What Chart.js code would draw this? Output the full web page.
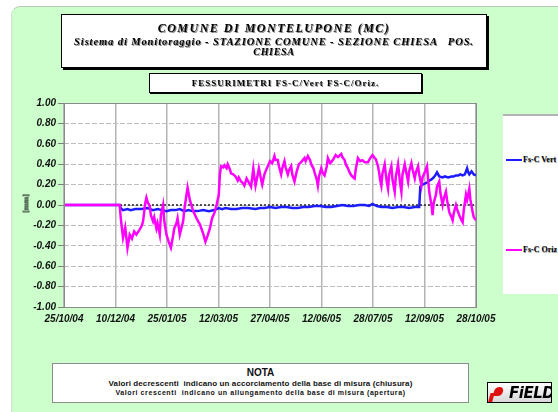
<!DOCTYPE html>
<html>
<head>
<meta charset="utf-8">
<script src="https://cdn.jsdelivr.net/npm/chart.js@4.4.1/dist/chart.umd.min.js"></script>
<style>
  body { margin: 0; width: 558px; height: 412px; overflow: hidden; background: #fff; position: relative; }
  #sheet { position: absolute; left: 11px; top: 6px; width: 560px; height: 420px; background: #ccffcc;
           border-top: 1px solid #b9c4b9; border-left: 1px solid #cfe0cf; border-radius: 9px 0 0 0; }
  #fsChart { position: absolute; left: 0; top: 0; }
  .box { position: absolute; box-sizing: border-box; background: #fff; }
  .line { position: absolute; left: 0; right: 0; text-align: center; white-space: nowrap; }
  #titleBox { left: 61px; top: 14px; width: 426px; height: 54px; border: 1.5px solid #000; box-shadow: 2px 2px 0 #000; }
  #titleBox .line { font-family: "Liberation Serif", serif; font-style: italic; font-weight: bold; color: #000;
                    text-shadow: 1px 1px 0 #8a8a8a; }
  #t1 { top: 6px; font-size: 12px; letter-spacing: 1.5px; }
  #t2 { top: 21px; font-size: 10.5px; letter-spacing: 0.9px; }
  #t3 { top: 31px; font-size: 10px; letter-spacing: 0.7px; }
  #subBox { left: 149px; top: 73px; width: 273px; height: 20px; border: 1px solid #000; box-shadow: 1px 1px 0 #000; }
  #subBox .line { top: 4px; font-family: "Liberation Serif", serif; font-weight: bold; font-size: 9px;
                  letter-spacing: 1px; text-shadow: 1px 1px 0 #999; }
  #yTitle { position: absolute; left: 12px; top: 199px; width: 28px; text-align: center; transform: rotate(-90deg);
            font-family: "Liberation Serif", serif; font-weight: bold; font-size: 8px; }
  #legendBox { left: 503px; top: 114px; width: 60px; height: 180px; border-top: 2px solid #b3b3b3; }
  .entry { position: absolute; left: 3px; height: 10px; font-family: "Liberation Serif", serif; font-weight: bold;
           font-size: 8px; white-space: nowrap; text-shadow: 0.5px 0.5px 0 #999; }
  .entry i { display: inline-block; width: 16px; height: 2px; vertical-align: middle; margin-right: 1px; }
  #noteBox { left: 52px; top: 363px; width: 417px; height: 40px; border: 1px solid #8c8c8c; }
  #noteBox .line { font-family: "Liberation Sans", sans-serif; font-weight: bold; color: #111; }
  #n1 { top: 3px; font-size: 10px; }
  #n2 { top: 15px; font-size: 8px; letter-spacing: 0.1px; }
  #n3 { top: 25px; font-size: 7px; letter-spacing: 0.6px; }
  #logo { left: 487px; top: 382px; width: 65px; height: 21px; border: 1px solid #000;
          background: linear-gradient(#fff, #d8d8d8); overflow: hidden; }
  #logo b { position: absolute; left: 6px; top: 4px; width: 9px; height: 9px; border-radius: 50% 50% 50% 0;
            background: #e01010; transform: skewX(-15deg); }
  #logo b::after { content: ""; position: absolute; left: -3px; top: 6px; width: 4px; height: 9px; background: #e01010; }
  #logo span { position: absolute; left: 21px; top: 1px; font-family: "DejaVu Sans", sans-serif; font-weight: bold;
               font-style: italic; font-size: 15px; letter-spacing: -0.5px; color: #000; }
</style>
</head>
<body>
<div id="sheet"></div>
<canvas id="fsChart" width="558" height="412"></canvas>

<div class="box" id="titleBox">
  <div class="line" id="t1">COMUNE DI MONTELUPONE (MC)</div>
  <div class="line" id="t2">Sistema di Monitoraggio - STAZIONE COMUNE - SEZIONE CHIESA &nbsp; POS.</div>
  <div class="line" id="t3">CHIESA</div>
</div>
<div class="box" id="subBox"><div class="line">FESSURIMETRI FS-C/Vert FS-C/Oriz.</div></div>
<div id="yTitle">[mm]</div>
<div class="box" id="legendBox">
  <div class="entry" id="legVert" style="top:39px"><i></i>Fs-C Vert</div>
  <div class="entry" id="legOriz" style="top:129px"><i></i>Fs-C Oriz</div>
</div>
<div class="box" id="noteBox">
  <div class="line" id="n1">NOTA</div>
  <div class="line" id="n2">Valori decrescenti &nbsp;indicano un accorciamento della base di misura (chiusura)</div>
  <div class="line" id="n3">Valori crescenti &nbsp;indicano un allungamento della base di misura (apertura)</div>
</div>
<div class="box" id="logo"><b></b><span>FiELD</span></div>

<script>
// days counted from 25/10/04, one tick every 46 days
const dateTicks = ["25/10/04", "10/12/04", "25/01/05", "12/03/05", "27/04/05",
                   "12/06/05", "28/07/05", "12/09/05", "28/10/05"];
const TICK_STEP = 46;
const LAST_DAY = 370;

// Fs-C Vert readings [mm]
const vertDays = [0, 10, 20, 30, 40, 50, 51, 53, 57, 60, 64, 70, 75, 80, 84, 88, 92, 96, 100, 104, 108,
                  112, 115, 120, 125, 130, 135, 139, 142, 145, 150, 155, 160, 165, 172, 176, 180, 185, 190,
                  195, 200, 205, 210, 215, 220, 225, 230, 235, 240, 245, 250, 255, 260, 265, 270, 274, 277,
                  281, 285, 290, 295, 300, 305, 310, 315, 319, 320, 322, 324, 326, 328, 330, 332, 334, 335,
                  337, 340, 342, 345, 348, 350, 352, 354, 356, 358, 360, 362, 363, 364, 366, 368, 370];
const vertMm   = [0, 0, 0, 0, 0, 0, -0.03, -0.05, -0.04, -0.05, -0.04, -0.04, -0.03, -0.05, -0.04, -0.05,
                  -0.06, -0.05, -0.05, -0.04, -0.06, -0.05, -0.06, -0.06, -0.05, -0.06, -0.05, -0.03, -0.04,
                  -0.03, -0.04, -0.04, -0.03, -0.03, -0.04, -0.03, -0.03, -0.02, -0.03, -0.02, -0.02, -0.03,
                  -0.03, -0.02, -0.02, -0.01, -0.01, -0.02, -0.02, -0.01, 0.0, -0.01, -0.01, 0.0, 0.0, -0.01,
                  0.01, -0.01, -0.02, -0.02, -0.03, -0.02, -0.02, -0.03, -0.02, -0.02, 0.18, 0.20, 0.21, 0.22,
                  0.24, 0.25, 0.27, 0.30, 0.32, 0.28, 0.27, 0.28, 0.27, 0.28, 0.28, 0.29, 0.29, 0.30, 0.29,
                  0.30, 0.36, 0.32, 0.30, 0.33, 0.30, 0.29];

// Fs-C Oriz readings [mm]
const orizDays = [0, 10, 20, 30, 40, 50, 51, 53, 55, 57, 59, 61, 63, 65, 68, 70, 71, 73, 74, 75, 77, 78, 80,
                  81, 83, 84, 86, 87, 89, 90, 92, 94, 96, 98, 99, 101, 102, 104, 106, 107, 108, 110, 111, 113,
                  116, 119, 122, 125, 127, 129, 131, 133, 135, 137, 139, 140, 141, 143, 144, 146, 147, 149,
                  150, 152, 154, 156, 157, 159, 161, 162, 164, 166, 168, 170, 171, 172, 174, 175, 177, 178,
                  180, 181, 183, 185, 187, 189, 190, 192, 193, 195, 196, 198, 199, 201, 202, 204, 205, 207,
                  209, 211, 213, 216, 217, 219, 221, 222, 224, 225, 227, 228, 229, 231, 232, 234, 236, 237,
                  239, 240, 242, 244, 246, 249, 250, 252, 253, 255, 256, 258, 260, 261, 262, 264, 266, 268,
                  270, 273, 275, 277, 279, 280, 282, 283, 284, 285, 286, 288, 289, 290, 291, 292, 294, 295,
                  297, 298, 300, 301, 302, 303, 304, 306, 307, 309, 310, 312, 313, 315, 316, 318, 319, 321,
                  322, 324, 326, 327, 328, 330, 331, 332, 334, 335, 337, 338, 340, 341, 343, 344, 346, 348,
                  349, 350, 352, 353, 355, 357, 358, 359, 361, 362, 364, 365, 367, 368, 370];
const orizMm   = [0, 0, 0, 0, 0, 0, -0.13, -0.32, -0.22, -0.42, -0.29, -0.33, -0.26, -0.29, -0.24, -0.20,
                  -0.16, 0.02, 0.07, 0.03, -0.01, -0.10, -0.16, -0.12, -0.23, -0.18, -0.29, -0.10, 0.0,
                  -0.15, -0.29, -0.36, -0.42, -0.30, -0.23, -0.18, -0.13, -0.29, -0.20, -0.16, -0.05, 0.10,
                  0.17, 0.05, -0.06, -0.13, -0.19, -0.28, -0.36, -0.30, -0.23, -0.13, -0.08, 0.0, 0.10,
                  0.30, 0.38, 0.37, 0.39, 0.36, 0.40, 0.35, 0.31, 0.30, 0.28, 0.24, 0.27, 0.23, 0.21, 0.19,
                  0.26, 0.22, 0.18, 0.36, 0.27, 0.19, 0.30, 0.36, 0.25, 0.20, 0.30, 0.33, 0.38, 0.43, 0.41,
                  0.48, 0.44, 0.44, 0.38, 0.30, 0.36, 0.43, 0.37, 0.30, 0.34, 0.38, 0.30, 0.23, 0.33, 0.40,
                  0.42, 0.46, 0.43, 0.48, 0.44, 0.40, 0.36, 0.32, 0.25, 0.19, 0.28, 0.36, 0.32, 0.29, 0.38,
                  0.46, 0.41, 0.42, 0.45, 0.49, 0.47, 0.50, 0.47, 0.44, 0.40, 0.36, 0.33, 0.29, 0.27, 0.26,
                  0.35, 0.46, 0.43, 0.44, 0.42, 0.42, 0.46, 0.49, 0.46, 0.45, 0.38, 0.32, 0.24, 0.19, 0.31,
                  0.40, 0.30, 0.22, 0.16, 0.30, 0.38, 0.25, 0.13, 0.28, 0.40, 0.30, 0.20, 0.13, 0.30, 0.40,
                  0.34, 0.23, 0.33, 0.41, 0.35, 0.26, 0.32, 0.38, 0.30, 0.19, 0.27, 0.32, 0.38, 0.25, 0.13,
                  0.0, -0.10, 0.02, 0.10, 0.18, 0.23, 0.12, 0.0, 0.06, 0.13, 0.05, -0.07, -0.12, -0.15, -0.08,
                  0.0, -0.04, -0.10, -0.15, -0.17, -0.05, 0.10, 0.05, 0.16, 0.05, -0.07, -0.12, -0.15];

const VERT_COLOR = "#1c1cff";
const ORIZ_COLOR = "#ff00ff";

document.querySelector("#legVert i").style.background = VERT_COLOR;
document.querySelector("#legOriz i").style.background = ORIZ_COLOR;

const toPoints = (days, vals) => days.map((d, i) => ({ x: d, y: vals[i] }));

// white plot area with a thin grey frame
const plotFrame = {
  id: "plotFrame",
  beforeDraw (chart) {
    const { ctx, chartArea: a } = chart;
    ctx.save();
    ctx.fillStyle = "#fff";
    ctx.fillRect(a.left, a.top, a.width, a.height);
    ctx.restore();
  },
  afterDraw (chart) {
    const { ctx, chartArea: a } = chart;
    ctx.save();
    ctx.strokeStyle = "#8a8a8a";
    ctx.lineWidth = 1;
    ctx.strokeRect(Math.round(a.left) + 0.5, Math.round(a.top) + 0.5, Math.round(a.width), Math.round(a.height));
    ctx.restore();
  }
};

const tickFont = { family: "'Liberation Sans', sans-serif", size: 10, style: "italic", weight: "bold" };

new Chart(document.getElementById("fsChart"), {
  type: "line",
  data: {
    datasets: [
      { label: "Fs-C Oriz", data: toPoints(orizDays, orizMm), borderColor: ORIZ_COLOR, borderWidth: 2.5 },
      { label: "Fs-C Vert", data: toPoints(vertDays, vertMm), borderColor: VERT_COLOR, borderWidth: 2.5 },
      { label: "zero", data: [{ x: 0, y: 0 }, { x: LAST_DAY, y: 0 }], borderColor: "#222",
        borderWidth: 1.5, borderDash: [2, 2] }
    ]
  },
  options: {
    responsive: false,
    animation: false,
    layout: { padding: { left: 0, top: 103, right: 82, bottom: 0 } },
    elements: { point: { radius: 0 }, line: { tension: 0 } },
    plugins: { legend: { display: false }, tooltip: { enabled: false } },
    scales: {
      x: {
        type: "linear",
        min: 0,
        max: LAST_DAY,
        afterFit: (s) => { s.height = 105; },
        border: { display: false },
        grid: { color: "#b4b4b4", lineWidth: 1.5, drawTicks: false },
        ticks: {
          stepSize: TICK_STEP,
          includeBounds: false,
          autoSkip: false,
          maxRotation: 0,
          padding: 6,
          color: "#111",
          font: tickFont,
          callback: (v) => dateTicks[Math.round(v / TICK_STEP)] ?? ""
        }
      },
      y: {
        min: -1,
        max: 1,
        afterFit: (s) => { s.width = 64; },
        border: { display: false, dash: [5, 2] },
        grid: { color: "#bdbdbd", lineWidth: 1, tickLength: 6, tickColor: "#808080", tickBorderDash: [] },
        ticks: {
          stepSize: 0.2,
          padding: 2,
          color: "#111",
          font: tickFont,
          callback: (v) => (Math.abs(v) < 1e-9 ? 0 : v).toFixed(2)
        }
      }
    }
  },
  plugins: [plotFrame]
});
</script>
</body>
</html>
